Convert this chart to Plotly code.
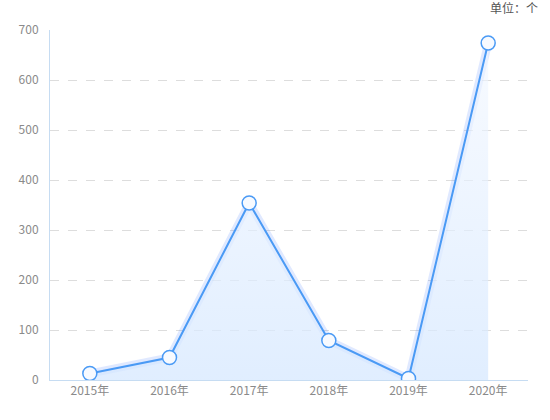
import plotly.graph_objects as go

years = ["2015年", "2016年", "2017年", "2018年", "2019年", "2020年"]
counts = [13, 45, 354, 79, 3, 674]
y_ticks = [0, 100, 200, 300, 400, 500, 600, 700]

fig = go.Figure()

# soft glow under the line
fig.add_trace(go.Scatter(
    x=years, y=counts, mode="lines",
    line=dict(color="rgba(60,120,255,0.16)", width=8),
    hoverinfo="skip", showlegend=False,
))

fig.add_trace(go.Scatter(
    x=years, y=counts, mode="lines+markers",
    line=dict(color="#4a9af5", width=2),
    marker=dict(size=14, color="#f7faff", line=dict(color="#4a9af5", width=1.5)),
    fill="tozeroy",
    fillgradient=dict(type="vertical",
                      colorscale=[[0, "rgba(214,232,255,0.75)"], [1, "rgba(242,247,255,0.6)"]]),
    showlegend=False,
))

fig.update_xaxes(
    type="category", range=[-0.5, 5.5],
    showgrid=False, showline=True, linecolor="#c6dcf2", linewidth=1,
    ticks="", tickfont=dict(color="#8a8a8a", size=12),
)
fig.update_yaxes(
    range=[0, 700], tickvals=y_ticks,
    showgrid=True, gridcolor="#dddddd", griddash="dash", gridwidth=1,
    showline=True, linecolor="#c6dcf2", linewidth=1,
    zeroline=False, ticks="", ticklabelstandoff=8,
    tickfont=dict(color="#8a8a8a", size=12),
)

fig.add_annotation(
    text="单位：个", xref="paper", yref="paper", x=1.025, y=1.063,
    xanchor="right", yanchor="middle", showarrow=False,
    font=dict(size=12, color="#555555"),
)

fig.update_layout(
    width=550, height=420,
    margin=dict(l=50, r=22, t=30, b=40),
    plot_bgcolor="white", paper_bgcolor="white",
    font=dict(family="Noto Sans CJK SC, Roboto, sans-serif"),
)

# drop the page's default body margin so the chart sits at the top-left corner
fig.write_html("out.html", config={"displayModeBar": False},
               post_script="document.body.style.margin='0';")
